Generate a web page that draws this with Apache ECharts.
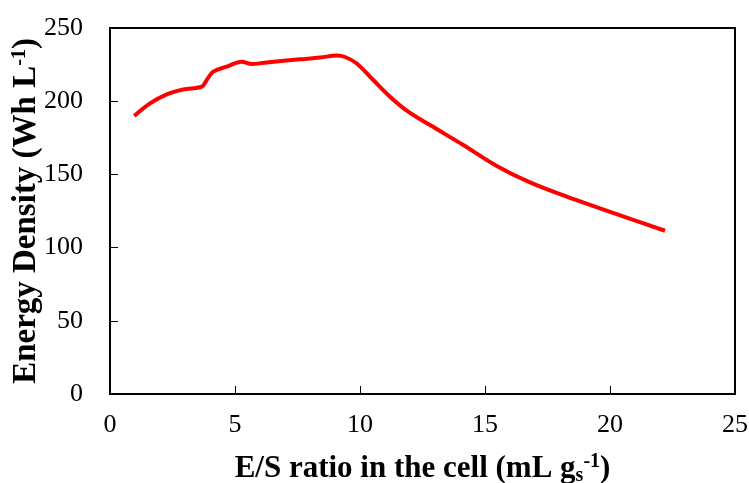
<!DOCTYPE html>
<html><head><meta charset="utf-8">
<script src="https://cdn.jsdelivr.net/npm/echarts@6/dist/echarts.min.js"></script>
<style>html,body{margin:0;padding:0;background:#fff}#c{width:749px;height:483px}</style>
</head><body><div id="c"></div>
<script>
const esRatio = [0.97, 1.6, 2.27, 2.93, 3.67, 3.87, 4.13, 4.67, 5.27, 5.67, 6.27, 7.6, 8.4, 9.07, 9.4, 9.87, 10.53, 11.2, 11.87, 12.8, 14.13, 15.47, 16.8, 18.27, 19.6, 20.93, 22.2];
const energyDensity = [189.9, 198.5, 204.7, 208, 209.9, 214.5, 220.2, 223.6, 227, 225.4, 226.5, 228.6, 229.8, 231.2, 230.2, 225.8, 214.5, 203.1, 193.6, 183.7, 170.1, 155.8, 144.5, 134.8, 126.8, 118.9, 111.5];
const xTicks = [0, 5, 10, 15, 20, 25];
const yTicks = [0, 50, 100, 150, 200, 250];

const chart = echarts.init(document.getElementById('c'), null, {renderer: 'canvas'});
const font = '"Liberation Serif","Times New Roman",serif';
chart.setOption({
  animation: false,
  grid: {left: 110, right: 14, top: 28, bottom: 89, containLabel: false, outerBoundsMode: 'none',
    show: true, borderColor: '#000', borderWidth: 2, backgroundColor: 'transparent'},
  xAxis: {
    type: 'value', min: xTicks[0], max: xTicks[xTicks.length-1], interval: 5,
    axisLine: {show: true, lineStyle: {color: '#000', width: 2}},
    axisTick: {show: true, inside: true, length: 8, lineStyle: {color: '#000', width: 1}},
    splitLine: {show: false},
    axisLabel: {color: '#000', fontFamily: font, fontSize: 26, margin: 18},
    name: 'E/S ratio in the cell (mL g{sub|s}{sup|-1})',
    nameLocation: 'middle', nameGap: 58, nameMoveOverlap: false,
    nameTextStyle: {color: '#000', fontFamily: font, fontSize: 31, fontWeight: 'bold',
      rich: {
        sub: {fontFamily: font, fontSize: 20, fontWeight: 'bold', verticalAlign: 'bottom', padding: [14,0,0,0], color: '#000'},
        sup: {fontFamily: font, fontSize: 20, fontWeight: 'bold', verticalAlign: 'top', padding: [0,0,12,0], color: '#000'}
      }}
  },
  yAxis: {
    type: 'value', min: yTicks[0], max: yTicks[yTicks.length-1], interval: 50,
    axisLine: {show: true, lineStyle: {color: '#000', width: 2}},
    axisTick: {show: true, inside: true, length: 8, lineStyle: {color: '#000', width: 1}},
    splitLine: {show: false},
    axisLabel: {color: '#000', fontFamily: font, fontSize: 26, margin: 27},
    name: 'Energy Density (Wh L{sup|-1})',
    nameLocation: 'middle', nameGap: 67, nameMoveOverlap: false,
    nameTextStyle: {color: '#000', fontFamily: font, fontSize: 33, fontWeight: 'bold',
      rich: {
        sup: {fontFamily: font, fontSize: 20, fontWeight: 'bold', verticalAlign: 'top', padding: [0,0,12,0], color: '#000'}
      }}
  },
  series: [{
    type: 'line', smooth: 0.35, showSymbol: false,
    data: esRatio.map((x, i) => [x, energyDensity[i]]),
    lineStyle: {color: '#ff0000', width: 4}
  }]
});
</script></body></html>
